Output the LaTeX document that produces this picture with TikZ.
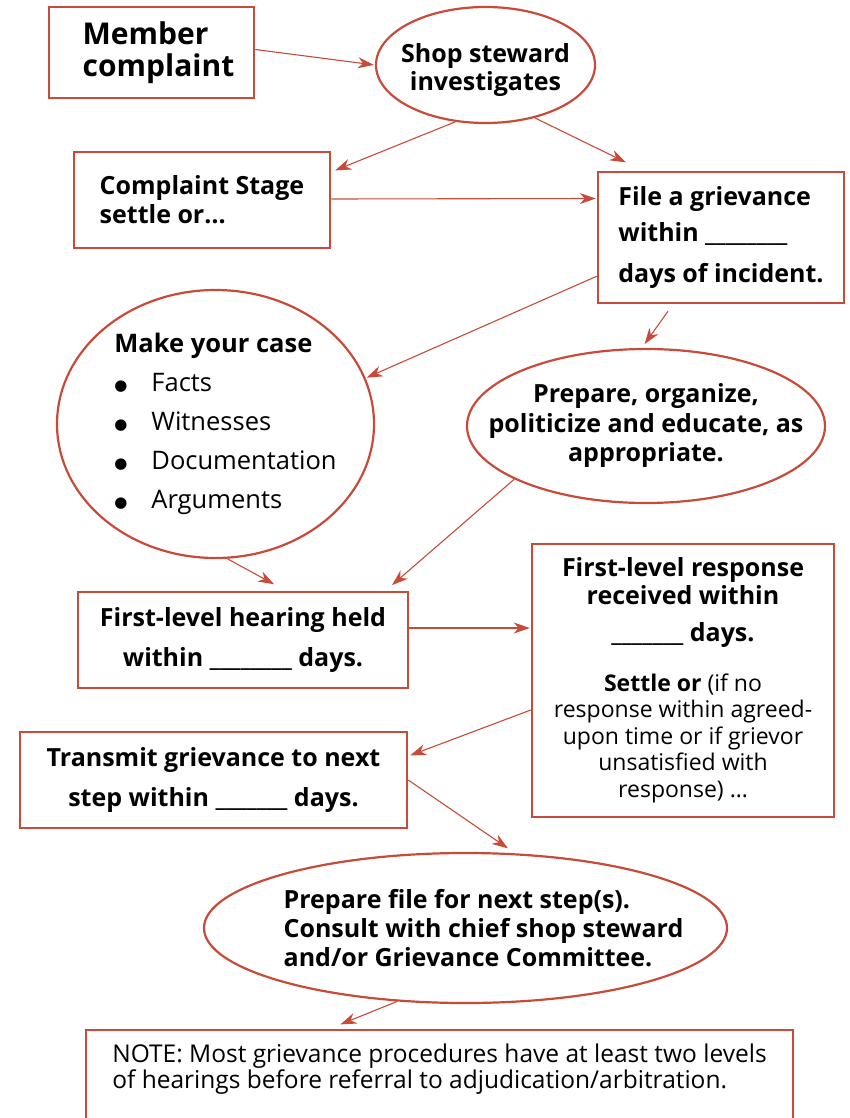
\documentclass[tikz,border=0pt]{standalone}
\usepackage{fontspec}
\setmainfont{Open Sans}
\newfontfamily\symfont{DejaVu Sans}
\usetikzlibrary{positioning,shapes.geometric,arrows.meta}
\definecolor{lineRed}{HTML}{C84B3A}
\newcommand{\bulletitem}[1]{\makebox[37pt][l]{\raisebox{1pt}{\symfont\fontsize{15}{15}\selectfont ●}}#1}

\begin{document}
\begin{tikzpicture}[shorten >= 1pt, on grid, auto,
	box/.style={rectangle, draw=lineRed, line width=2.5pt, inner sep=0pt},
	oval/.style={ellipse, draw=lineRed, line width=2.2pt, inner sep=0pt},
	txt/.style={font=\fontsize{25}{28}\selectfont\bfseries, align=center},
	arr/.style={draw=lineRed, line width=1.1pt, -{Stealth[length=16pt, width=11pt, inset=5pt]}}]
	\useasboundingbox (0,0) rectangle (850pt,-1118pt);

	\node[box, minimum width=205pt, minimum height=91pt, align=left, font=\fontsize{30}{32}\selectfont\bfseries] (mc) at (151.5pt,-52.5pt) {\hspace*{14pt}Member\\\hspace*{14pt}complaint};
	\node[oval, minimum width=219pt, minimum height=116pt, below right=12.5pt and 334pt of mc, label={[txt, yshift=-5pt]center:Shop steward\\investigates}](ss){};
	\node[box, minimum width=256pt, minimum height=96pt, below right=147.5pt and 50.5pt of mc, txt, align=left, font=\fontsize{25}{29}\selectfont\bfseries](cs){Complaint Stage\\settle or…};
	\node[box, minimum width=246pt, minimum height=131pt, below right=172.5pt and 235.5pt of ss, txt, align=left, font=\fontsize{25}{36}\selectfont\bfseries](fg){File a grievance\\within \_\_\_\_\_\_\_\_\\[5pt]days of incident.};

	\node[oval, minimum width=317pt, minimum height=268pt, below right=224pt and 13.5pt of cs, label={[xshift=10pt, align=left, font=\fontsize{25.5}{39}\selectfont]center:\textbf{Make your case}\\\bulletitem{Facts}\\\bulletitem{Witnesses}\\\bulletitem{Documentation}\\\bulletitem{Arguments}}](mk){};
	\node[oval, minimum width=358pt, minimum height=154pt, below left=188.5pt and 75pt of fg, label={[txt, font=\fontsize{25}{29.5}\selectfont\bfseries]center:Prepare, organize,\\politicize and educate, as\\appropriate.}](po){};

	\node[box, minimum width=330pt, minimum height=96pt, below right=216pt and 27.5pt of mk, txt, font=\fontsize{25}{40}\selectfont\bfseries](fh){First-level hearing held\\within \_\_\_\_\_\_\_\_ days.};
	\node[box, minimum width=302pt, minimum height=273pt, below right=40.5pt and 440pt of fh, text width=290pt, align=flush center, font=\fontsize{25}{28}\selectfont\bfseries](fr){First-level response\\received within\\[9pt]\_\_\_\_\_\_\_ days.\par\vspace{23pt}\fontsize{23}{26.5}\selectfont\mdseries\textbf{Settle or} (if no\\response within agreed-\\upon time or if grievor\\unsatisfied with\\response) …\par};
	\node[box, minimum width=387pt, minimum height=96pt, below left=140pt and 29.5pt of fh, txt, font=\fontsize{25}{40}\selectfont\bfseries](tg){Transmit grievance to next\\step within \_\_\_\_\_\_\_ days.};

	\node[oval, minimum width=523pt, minimum height=150pt, below right=148pt and 252pt of tg, label={[txt, align=left, xshift=18pt, font=\fontsize{25}{29}\selectfont\bfseries]center:Prepare file for next step(s).\\Consult with chief shop steward\\and/or Grievance Committee.}](pf){};
	\node[box, minimum width=707pt, minimum height=130pt, below left=167pt and 26pt of pf, label={[yshift=26pt, align=left, font=\fontsize{24.5}{26}\selectfont]center:NOTE: Most grievance procedures have at least two levels\\of hearings before referral to adjudication/arbitration.}](note){};

	\draw[-, every edge/.append style={arr}] ([yshift=3pt]mc.east) edge (ss.west)
	(ss.242) edge ([shift={(3pt,-20pt)}]cs.north east)
	(ss.313) edge ([shift={(30pt,8pt)}]fg.north west)
	([yshift=1pt]cs.east) edge ([yshift=39pt]fg.west)
	([yshift=28pt]fg.south west) edge (mk.17)
	([shift={(-53pt,-7pt)}]fg.south) edge ([shift={(-2pt,3pt)}]po.north)
	(mk.275) edge ([shift={(32pt,6pt)}]fh.north)
	(po.202) edge ([shift={(-18pt,5pt)}]fh.north east)
	([yshift=12pt]fh.east) edge ([yshift=52.5pt]fr.west)
	([yshift=-29.5pt]fr.west) edge ([shift={(1pt,-25pt)}]tg.north east)
	(tg.east) edge ([yshift=4pt]pf.60)
	(pf.227) edge ([shift={(-100pt,4pt)}]note.north);
\end{tikzpicture}
\end{document}
